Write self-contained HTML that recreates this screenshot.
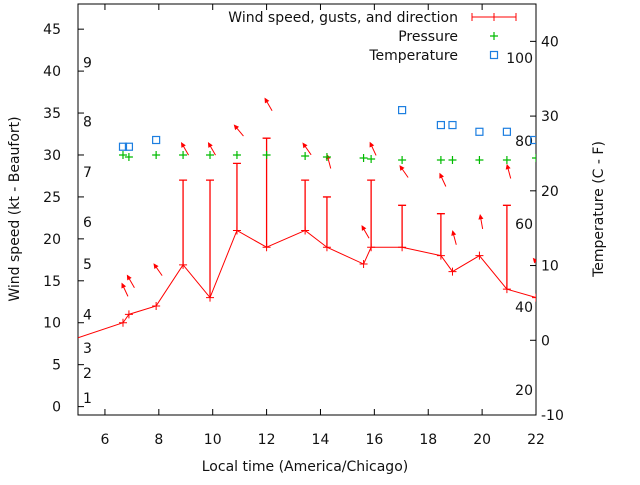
<!DOCTYPE html>
<html><head><meta charset="utf-8"><style>
body{margin:0;background:#fff;width:640px;height:480px;overflow:hidden}
svg text{font-family:"DejaVu Sans","Liberation Sans",sans-serif;font-size:14px;fill:#111}
</style></head><body>
<svg id="c" width="640" height="480" xmlns="http://www.w3.org/2000/svg"></svg>
<script>
const times=[6.67,6.89,7.9,8.9,9.9,10.9,12.0,13.43,14.24,15.6,15.88,17.03,18.47,18.9,19.9,20.92,22.0];
const wind=[10,11,12,16.9,13,21,19,21,19,17,19,19,18,16.1,18,14,13];
const gust=[null,null,null,27,27,29,32,27,25,null,27,24,23,null,null,24,null];
const pressure=[30.0,29.76,30.0,30.0,30.0,30.0,30.0,29.88,29.76,29.64,29.52,29.4,29.4,29.4,29.4,29.4,29.64];
const tempTimes=[6.67,6.89,7.9,17.03,18.47,18.9,19.9,20.92,21.93];
const tempC=[25.9,25.9,26.8,30.8,28.8,28.8,27.9,27.9,26.8];
const arrowY=[13.9,14.9,16.3,30.7,30.7,32.9,36,30.7,29.2,20.8,30.7,28,27,20.1,22,28,17];
const arrowDir=[-25,-30,-35,-30,-30,-40,-30,-35,-15,-30,-25,-35,-25,-15,-10,-15,-40];
const xTicks=[6,8,10,12,14,16,18,20,22];
const yTicks=[0,5,10,15,20,25,30,35,40,45];
const y2Ticks=[-10,0,10,20,30,40];
const beaufortLabels=["1","2","3","4","5","6","7","8","9"];
const beaufortKt=[1,4,7,11,17,22,28,34,41];
const fLabels=["20","40","60","80","100"];
const fVals=[20,40,60,80,100];

const L=78,R=536,T=4,B=415;
const X=v=>L+(v-5)/(22-5)*(R-L);
const Y=v=>B-(v+1)/(48+1)*(B-T);
const Y2=v=>B-(v+10)/(45+10)*(B-T);
const svg=document.getElementById('c');
const NS='http://www.w3.org/2000/svg';
function mk(t,a,p){const e=document.createElementNS(NS,t);for(const k in a)e.setAttribute(k,a[k]);(p||svg).appendChild(e);return e;}
function txt(s,x,y,anchor,p){const e=mk('text',{x:x,y:y,'text-anchor':anchor||'middle'},p);e.textContent=s;return e;}

const defs=mk('defs',{});
const cp=mk('clipPath',{id:'clip'},defs);mk('rect',{x:L,y:T,width:R-L,height:B-T},cp);

const axes=mk('g',{});


mk('rect',{x:L,y:T,width:R-L,height:B-T,fill:'none',stroke:'#000','stroke-width':1},axes);
xTicks.forEach(v=>{const x=X(v);
 mk('line',{x1:x,x2:x,y1:B,y2:B-6,stroke:'#000'},axes);
 mk('line',{x1:x,x2:x,y1:T,y2:T+6,stroke:'#000'},axes);
 const t=txt(String(v),x,B+29,'middle',axes);
 
 
});
yTicks.forEach(v=>{const y=Y(v);
 mk('line',{x1:L,x2:L+6,y1:y,y2:y,stroke:'#000'},axes);
 const t=txt(String(v),L-17,y+5,'end',axes);
 
 
});
y2Ticks.forEach(v=>{const y=Y2(v);
 mk('line',{x1:R,x2:R-6,y1:y,y2:y,stroke:'#000'},axes);
 const t=txt(String(v),R+5,y+5,'start',axes);
 
 
});
beaufortKt.forEach((v,i)=>{
 const t=txt(beaufortLabels[i],83,Y(v)+5,'start',axes);
 
 
});
fVals.forEach((f,i)=>{
 const t=txt(fLabels[i],533,Y2((f-32)*5/9)+5,'end',axes);
 
 
});
const xt=txt('Local time (America/Chicago)',305,471,'middle');

const yt=txt('Wind speed (kt - Beaufort)',0,0,'middle');
yt.setAttribute('transform','translate(19,209) rotate(-90)');

const y2t=txt('Temperature (C - F)',0,0,'middle');
y2t.setAttribute('transform','translate(603,209) rotate(-90)');


const g=mk('g',{'clip-path':'url(#clip)'});


const red='#f00',green='#0b0',blue='#1c7ee0';
let pts=[[X(5),Y(8.2)]];
times.forEach((t,i)=>pts.push([X(t),Y(wind[i])]));
const wl=mk('polyline',{points:pts.map(p=>p.join(',')).join(' '),fill:'none',stroke:red,'stroke-width':1},g);

times.forEach((t,i)=>{const x=X(t),y=Y(wind[i]);
 const m=mk('path',{d:`M${x-4},${y}H${x+4}M${x},${y-4}V${y+4}`,stroke:red,'stroke-width':1},g);
 
 if(gust[i]!=null){const gy=Y(gust[i]);
  const b=mk('path',{d:`M${x},${y}V${gy}M${x-4},${gy}H${x+4}`,stroke:red,'stroke-width':1.3},g);
  }
});
times.forEach((t,i)=>{const cx=X(t)+2,cy=Y(arrowY[i]);
 const a=(arrowDir[i]-90)*Math.PI/180,len=7;
 const tx=cx+Math.cos(a)*len,ty=cy+Math.sin(a)*len,bx=cx-Math.cos(a)*len,by=cy-Math.sin(a)*len;
 const h1=a+Math.PI-0.45,h2=a+Math.PI+0.45;
 const ar=mk('path',{d:`M${bx},${by}L${tx},${ty}M${tx},${ty}L${tx+Math.cos(h1)*4},${ty+Math.sin(h1)*4}L${tx+Math.cos(h2)*4},${ty+Math.sin(h2)*4}Z`,stroke:red,fill:red,'stroke-width':1},g);
 
});
times.forEach((t,i)=>{const x=X(t),y=Y(pressure[i]);
 const p=mk('path',{d:`M${x-4},${y}H${x+4}M${x},${y-4}V${y+4}`,stroke:green,'stroke-width':1.2},g);
 
});
tempTimes.forEach((t,i)=>{const x=X(t),y=Y2(tempC[i]);
 const s=mk('rect',{x:x-3.5,y:y-3.5,width:7,height:7,fill:'none',stroke:blue,'stroke-width':1.2},g);
 
});
const lg=mk('g',{});

const e1=txt('Wind speed, gusts, and direction',458,22,'end',lg);

mk('path',{d:'M472,17H516M472,13V21M516,13V21M494,13V21',stroke:red,'stroke-width':1},lg);
const e2=txt('Pressure',458,41,'end',lg);

mk('path',{d:'M490,36H498M494,32V40',stroke:green,'stroke-width':1.2},lg);
const e3=txt('Temperature',458,60,'end',lg);

mk('rect',{x:490.5,y:51.5,width:7,height:7,fill:'none',stroke:blue,'stroke-width':1.2},lg);
</script>
</body></html>
